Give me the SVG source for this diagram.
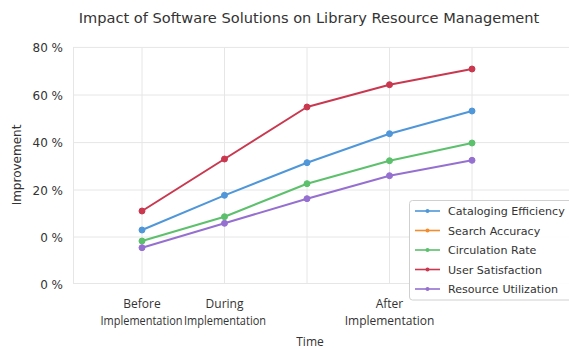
<svg xmlns="http://www.w3.org/2000/svg" width="569" height="349" viewBox="0 0 569 349">
<style>
text{font-family:"DejaVu Sans","Liberation Sans",sans-serif;fill:#333}
.grid{stroke:#e6e6e6;stroke-width:1;fill:none}
.tick{font-size:12px;text-anchor:end}
.xl{font-family:"Open Sans","Noto Sans",sans-serif;font-size:12px;text-anchor:middle}
.leg{font-size:11.1px}
.s{fill:none;stroke-width:2;stroke-linejoin:round}
.ls{stroke-width:1.6}
</style>
<rect width="569" height="349" fill="#fff"/>
<text x="309" y="23" font-size="14.6" text-anchor="middle">Impact of Software Solutions on Library Resource Management</text>
<g id="grid">
<path class="grid" d="M73 47.4H569M73 95H569M73 142.6H569M73 190H569M73 237H569M73 283.5H569"/>
<path class="grid" d="M73.5 47V284M142 47V284M224.5 47V284M307 47V284M389.5 47V284M472 47V284"/>
</g>
<g id="yaxis">
<text class="tick" x="63" y="52">80 %</text>
<text class="tick" x="63" y="99.5">60 %</text>
<text class="tick" x="63" y="147">40 %</text>
<text class="tick" x="63" y="194.5">20 %</text>
<text class="tick" x="63" y="241.5">0 %</text>
<text class="tick" x="63" y="288.5">0 %</text>
<text font-size="12" text-anchor="middle" transform="translate(21 165) rotate(-90)">Improvement</text>
</g>
<g id="xaxis">
<text class="xl" x="142" y="308">Before</text>
<text class="xl" x="141.5" y="325" textLength="82" lengthAdjust="spacingAndGlyphs">Implementation</text>
<text class="xl" x="224.5" y="308">During</text>
<text class="xl" x="225" y="325" textLength="82" lengthAdjust="spacingAndGlyphs">Implementation</text>
<text class="xl" x="389.5" y="308">After</text>
<text class="xl" x="389.5" y="325">Implementation</text>
<text class="xl" x="310" y="346">Time</text>
</g>
<g id="connectors">
<g id="series-user-satisfaction" stroke="#c9384f" fill="#c9384f">
<polyline class="s" points="142,211 224.5,159 307,107 389.5,84.7 472,69"/>
<circle cx="142" cy="211" r="3"/><circle cx="224.5" cy="159" r="3"/><circle cx="307" cy="107" r="3"/><circle cx="389.5" cy="84.7" r="3"/><circle cx="472" cy="69" r="3"/>
</g>
<g id="series-cataloging-efficiency" stroke="#4f97d9" fill="#4f97d9">
<polyline class="s" points="142,230 224.5,195.3 307,162.7 389.5,133.7 472,111"/>
<circle cx="142" cy="230" r="3"/><circle cx="224.5" cy="195.3" r="3"/><circle cx="307" cy="162.7" r="3"/><circle cx="389.5" cy="133.7" r="3"/><circle cx="472" cy="111" r="3"/>
</g>
<g id="series-circulation-rate" stroke="#5cc06c" fill="#5cc06c">
<polyline class="s" points="142,241 224.5,216.7 307,183.7 389.5,160.7 472,143"/>
<circle cx="142" cy="241" r="3"/><circle cx="224.5" cy="216.7" r="3"/><circle cx="307" cy="183.7" r="3"/><circle cx="389.5" cy="160.7" r="3"/><circle cx="472" cy="143" r="3"/>
</g>
<g id="series-resource-utilization" stroke="#9570d0" fill="#9570d0">
<polyline class="s" points="142,247.7 224.5,223.3 307,198.7 389.5,175.7 472,160.3"/>
<circle cx="142" cy="247.7" r="3"/><circle cx="224.5" cy="223.3" r="3"/><circle cx="307" cy="198.7" r="3"/><circle cx="389.5" cy="175.7" r="3"/><circle cx="472" cy="160.3" r="3"/>
</g>
</g>
<g id="legend">
<rect x="409.5" y="200.5" width="165" height="99.5" rx="3" fill="#fff" fill-opacity="0.9" stroke="#d0d0d0"/>
<g id="leg-cataloging"><line class="ls" x1="415" y1="211" x2="440" y2="211" stroke="#4f97d9"/><circle cx="427.5" cy="211" r="2" fill="#4f97d9"/><text class="leg" x="448" y="215">Cataloging Efficiency</text></g>
<g id="leg-search"><line class="ls" x1="415" y1="230.5" x2="440" y2="230.5" stroke="#f28c2e"/><circle cx="427.5" cy="230.5" r="2" fill="#f28c2e"/><text class="leg" x="448" y="234.5">Search Accuracy</text></g>
<g id="leg-circulation"><line class="ls" x1="415" y1="250" x2="440" y2="250" stroke="#5cc06c"/><circle cx="427.5" cy="250" r="2" fill="#5cc06c"/><text class="leg" x="448" y="254">Circulation Rate</text></g>
<g id="leg-user"><line class="ls" x1="415" y1="269.5" x2="440" y2="269.5" stroke="#c9384f"/><circle cx="427.5" cy="269.5" r="2" fill="#c9384f"/><text class="leg" x="448" y="273.5">User Satisfaction</text></g>
<g id="leg-resource"><line class="ls" x1="415" y1="289" x2="440" y2="289" stroke="#9570d0"/><circle cx="427.5" cy="289" r="2" fill="#9570d0"/><text class="leg" x="448" y="293">Resource Utilization</text></g>
</g>
</svg>
